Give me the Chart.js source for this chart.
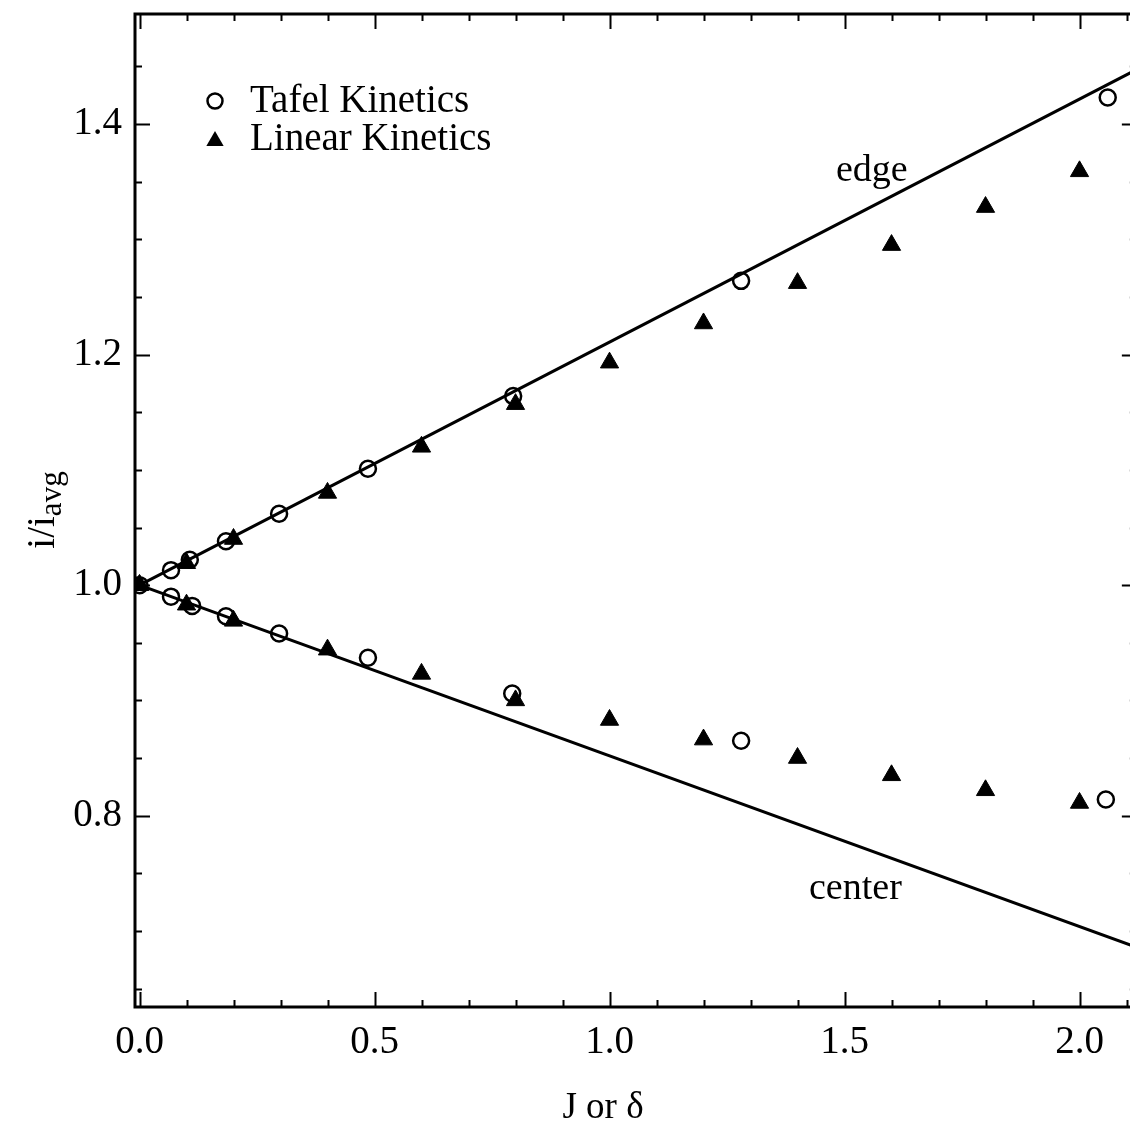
<!DOCTYPE html>
<html>
<head>
<meta charset="utf-8">
<script src="https://cdn.jsdelivr.net/npm/chart.js@4/dist/chart.umd.min.js"></script>
<style>
  html, body { margin: 0; padding: 0; background: #fff; overflow: hidden; }
  #wrap { width: 1130px; height: 1128px; }
</style>
</head>
<body>
<div id="wrap"><canvas id="c" width="1130" height="1128"></canvas></div>
<script>
// ---- tick labels ----
const xTicks = [0.0, 0.5, 1.0, 1.5, 2.0];
const yTicks = [0.8, 1.0, 1.2, 1.4];
const xMinorTicks = [0.0,0.1,0.2,0.3,0.4,0.5,0.6,0.7,0.8,0.9,1.0,1.1,1.2,1.3,1.4,1.5,1.6,1.7,1.8,1.9,2.0,2.1];
const yMinorTicks = [0.65,0.70,0.75,0.80,0.85,0.90,0.95,1.00,1.05,1.10,1.15,1.20,1.25,1.30,1.35,1.40,1.45];
const xAxisEnd = 2.122;   // right frame of the original plot (just outside the crop)

// ---- series ----
const tafelEdgeJ   = [0, 0.067, 0.107, 0.184, 0.297, 0.486, 0.795, 1.28, 2.06];
const tafelEdgeI   = [1.000, 1.013, 1.022, 1.038, 1.062, 1.101, 1.164, 1.264, 1.423];
const tafelCenterJ = [0.067, 0.112, 0.184, 0.297, 0.486, 0.793, 1.28, 2.056];
const tafelCenterI = [0.990, 0.982, 0.973, 0.958, 0.937, 0.906, 0.865, 0.814];

const linearJ      = [0, 0.1, 0.2, 0.4, 0.6, 0.8, 1.0, 1.2, 1.4, 1.6, 1.8, 2.0];
const linearEdgeI  = [1.000, 1.019, 1.040, 1.080, 1.120, 1.157, 1.193, 1.227, 1.262, 1.295, 1.328, 1.359];
const linearCenterI= [1.000, 0.983, 0.969, 0.944, 0.923, 0.900, 0.883, 0.866, 0.850, 0.835, 0.822, 0.811];

const edgeLineJ   = [0, 2.12];
const edgeLineI   = [1.000, 1.447];
const centerLineJ = [0, 2.12];
const centerLineI = [1.000, 0.686];

const legendLabels = ['Tafel Kinetics', 'Linear Kinetics'];

const pts = (xs, ys) => xs.map((x, i) => ({x: x, y: ys[i]}));
const FONT = '"Liberation Serif", "Times New Roman", serif';

const tafelStyle = { pointStyle: 'circle', pointRadius: 8, pointBorderWidth: 2.5,
  pointBorderColor: '#000', pointBackgroundColor: 'rgba(0,0,0,0)', showLine: false };
const linearStyle = { pointStyle: 'triangle', pointRadius: 10.5, pointBorderWidth: 1,
  pointBorderColor: '#000', pointBackgroundColor: '#000', showLine: false };
const lineStyle = { showLine: true, pointRadius: 0, borderColor: '#000', borderWidth: 3, fill: false };

const decor = {
  id: 'decor',
  beforeDatasetsDraw(chart) {
    const ctx = chart.ctx, a = chart.chartArea;
    const sx = chart.scales.x, sy = chart.scales.y;
    const rightX = sx.getPixelForValue(xAxisEnd);
    ctx.save();
    ctx.strokeStyle = '#000';
    ctx.lineWidth = 3;
    ctx.beginPath();
    ctx.moveTo(rightX, a.top); ctx.lineTo(a.left, a.top);
    ctx.lineTo(a.left, a.bottom); ctx.lineTo(rightX, a.bottom);
    ctx.stroke();
    ctx.lineWidth = 2;
    ctx.beginPath();
    xMinorTicks.forEach(v => {
      const px = Math.round(sx.getPixelForValue(v)) + 0.5;
      const major = xTicks.some(t => Math.abs(t - v) < 1e-6);
      const L = major ? 15 : 7;
      ctx.moveTo(px, a.bottom); ctx.lineTo(px, a.bottom - L);
      ctx.moveTo(px, a.top); ctx.lineTo(px, a.top + L);
    });
    yMinorTicks.forEach(v => {
      const py = Math.round(sy.getPixelForValue(v)) + 0.5;
      const major = yTicks.some(t => Math.abs(t - v) < 1e-6);
      const L = major ? 15 : 7;
      ctx.moveTo(a.left, py); ctx.lineTo(a.left + L, py);
      ctx.moveTo(rightX, py); ctx.lineTo(rightX - L, py);
    });
    ctx.stroke();
    ctx.restore();
  },
  afterDatasetsDraw(chart) {
    const ctx = chart.ctx;
    ctx.save();
    ctx.fillStyle = '#000';
    ctx.strokeStyle = '#000';
    // legend
    ctx.lineWidth = 2.5;
    ctx.beginPath(); ctx.arc(215, 101, 7.5, 0, Math.PI * 2); ctx.stroke();
    const r = 10, tx = 215, ty = 141;
    ctx.beginPath();
    ctx.moveTo(tx, ty - r);
    ctx.lineTo(tx + r * Math.sin(2 * Math.PI / 3), ty - r * Math.cos(2 * Math.PI / 3));
    ctx.lineTo(tx + r * Math.sin(4 * Math.PI / 3), ty - r * Math.cos(4 * Math.PI / 3));
    ctx.closePath(); ctx.fill();
    ctx.font = '39px ' + FONT;
    ctx.textBaseline = 'alphabetic';
    ctx.textAlign = 'left';
    ctx.fillText(legendLabels[0], 250, 112);
    ctx.fillText(legendLabels[1], 250, 150);
    // annotations
    ctx.font = '38px ' + FONT;
    ctx.fillText('edge', 836, 181);
    ctx.fillText('center', 809, 899);
    // x title
    ctx.font = '37px ' + FONT;
    ctx.textAlign = 'center';
    ctx.fillText('J or \u03B4', 603, 1118);
    // y title (rotated) i/i_avg
    ctx.translate(54, 510);
    ctx.rotate(-Math.PI / 2);
    ctx.textAlign = 'left';
    ctx.font = '39px ' + FONT;
    const w1 = ctx.measureText('i/i').width;
    ctx.font = '31px ' + FONT;
    const w2 = ctx.measureText('avg').width;
    const start = -(w1 + w2) / 2;
    ctx.font = '39px ' + FONT;
    ctx.fillText('i/i', start, 0);
    ctx.font = '31px ' + FONT;
    ctx.fillText('avg', start + w1, 7);
    ctx.restore();
  }
};

new Chart(document.getElementById('c'), {
  type: 'scatter',
  data: {
    datasets: [
      Object.assign({ label: 'edge', data: pts(edgeLineJ, edgeLineI) }, lineStyle),
      Object.assign({ label: 'center', data: pts(centerLineJ, centerLineI) }, lineStyle),
      Object.assign({ label: legendLabels[0] + ' edge', data: pts(tafelEdgeJ, tafelEdgeI) }, tafelStyle),
      Object.assign({ label: legendLabels[0] + ' center', data: pts(tafelCenterJ, tafelCenterI) }, tafelStyle),
      Object.assign({ label: legendLabels[1] + ' edge', data: pts(linearJ, linearEdgeI) }, linearStyle),
      Object.assign({ label: legendLabels[1] + ' center', data: pts(linearJ, linearCenterI) }, linearStyle)
    ]
  },
  options: {
    responsive: false,
    animation: false,
    layout: { autoPadding: false, padding: { left: 0, top: 14, right: 0, bottom: 0 } },
    plugins: { legend: { display: false }, tooltip: { enabled: false } },
    scales: {
      x: {
        type: 'linear', min: -0.0096, max: 2.1074,
        grid: { display: false, drawTicks: false },
        border: { display: false },
        afterBuildTicks: s => { s.ticks = xTicks.map(v => ({ value: v })); },
        afterFit: s => { s.height = 121; s.paddingLeft = 0; s.paddingRight = 0; s.paddingTop = 0; s.paddingBottom = 0; },
        ticks: { color: '#000', padding: 12, maxRotation: 0, autoSkip: false,
          font: { family: FONT, size: 39 }, callback: v => Number(v).toFixed(1) }
      },
      y: {
        type: 'linear', min: 0.634, max: 1.4955,
        grid: { display: false, drawTicks: false },
        border: { display: false },
        afterBuildTicks: s => { s.ticks = yTicks.map(v => ({ value: v })); },
        afterFit: s => { s.width = 135; s.paddingTop = 0; s.paddingBottom = 0; s.paddingLeft = 0; s.paddingRight = 0; },
        ticks: { color: '#000', padding: 13, autoSkip: false,
          font: { family: FONT, size: 39 }, callback: v => Number(v).toFixed(1) }
      }
    }
  },
  plugins: [decor]
});
</script>
</body>
</html>
